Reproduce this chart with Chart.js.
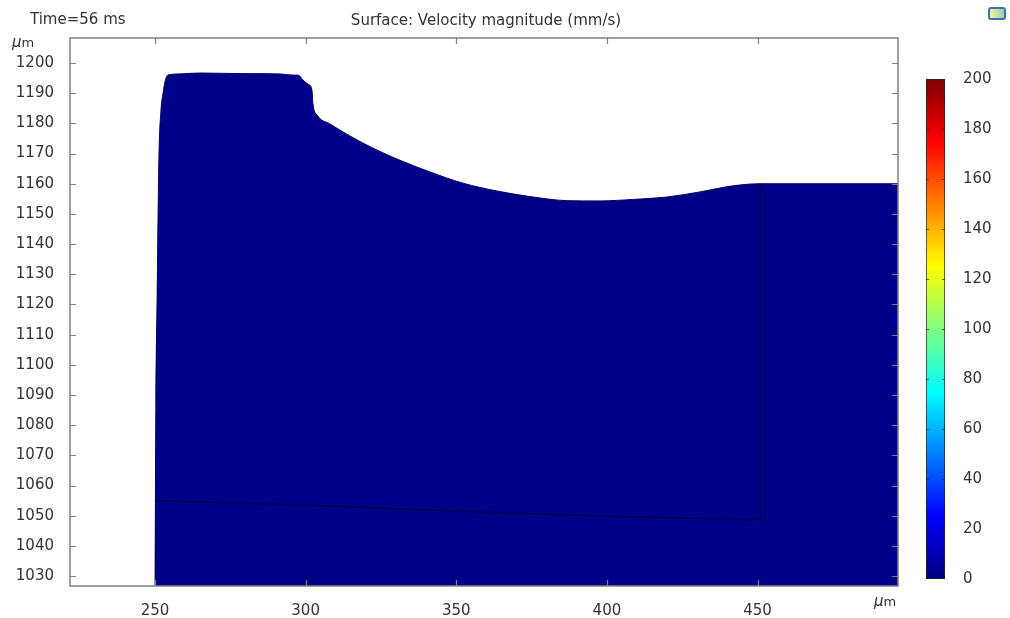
<!DOCTYPE html>
<html>
<head>
<meta charset="utf-8">
<script src="https://cdn.jsdelivr.net/npm/chart.js@4"></script>
<style>
    html, body { margin: 0; padding: 0; background: #fff; }
    #wrap { position: relative; width: 1010px; height: 618px; }
    #main { position: absolute; left: 0; top: 0; }
    #cbar { position: absolute; left: 900px; top: 0; }
    #icon {
        position: absolute; left: 988px; top: 7px; width: 14px; height: 9px;
        border: 2px solid #3d6fb4; border-radius: 3px;
        background: linear-gradient(to right, #f4f0a0, #9fd0a8);
    }
</style>
</head>
<body>
<div id="wrap">
    <canvas id="main" width="1010" height="618"></canvas>
    <canvas id="cbar" width="110" height="618"></canvas>
    <div id="icon"></div>
</div>
<script>
// axis ranges / ticks (um)
const xMin = 221.8, xMax = 496.6;
const yMin = 1026.7, yMax = 1208.3;
const xTicks = [250, 300, 350, 400, 450];
const yTicks = [1030, 1040, 1050, 1060, 1070, 1080, 1090, 1100, 1110, 1120, 1130, 1140, 1150, 1160, 1170, 1180, 1190, 1200];
const cbTicks = [0, 20, 40, 60, 80, 100, 120, 140, 160, 180, 200];

// free surface of the melt (top outline, left to right)
const shapeX = [250.0, 250.3, 250.7, 251.3, 252.0, 252.7, 253.3, 254.3, 258.3, 264.9, 278.2, 291.5, 295.8, 297.5, 299.1, 300.8, 302.1, 302.4, 303.8, 308.1, 319.0, 330.3, 341.3, 352.2, 363.5, 375.5, 386.7, 397.7, 408.6, 419.9, 430.9, 441.8, 450.8, 500.0];
const shapeY = [1020.0, 1088.3, 1121.4, 1167.9, 1184.4, 1190.1, 1193.7, 1196.0, 1196.4, 1196.7, 1196.5, 1196.4, 1196.0, 1196.0, 1194.4, 1193.0, 1191.1, 1186.7, 1182.8, 1179.8, 1173.5, 1168.2, 1163.9, 1160.2, 1157.6, 1155.6, 1154.4, 1154.3, 1154.8, 1155.6, 1157.3, 1159.3, 1160.0, 1160.0];

// inner domain boundary
const innerX = [250.3, 300.0, 350.0, 400.0, 451.0, 451.0];
const innerY = [1055.0, 1053.5, 1051.5, 1049.8, 1048.6, 1160.0];

const txtColor = '#333';
const axisColor = '#808080';
const font15 = { family: 'DejaVu Sans', size: 15 };
const plain = v => String(v);

const framePlugin = {
    id: 'frame',
    afterDatasetsDraw(chart) {
        const { ctx, chartArea: a, scales } = chart;
        ctx.save();
        ctx.strokeStyle = axisColor;
        ctx.lineWidth = 1.5;
        ctx.strokeRect(a.left, a.top, a.right - a.left, a.bottom - a.top);
        ctx.lineWidth = 1.2;
        ctx.beginPath();
        xTicks.forEach(v => {
            const px = Math.round(scales.x.getPixelForValue(v)) + 0.5;
            ctx.moveTo(px, a.top); ctx.lineTo(px, a.top + 6);
            ctx.moveTo(px, a.bottom); ctx.lineTo(px, a.bottom - 6);
        });
        yTicks.forEach(v => {
            const py = Math.round(scales.y.getPixelForValue(v)) + 0.5;
            ctx.moveTo(a.left, py); ctx.lineTo(a.left + 6, py);
            ctx.moveTo(a.right, py); ctx.lineTo(a.right - 6, py);
        });
        ctx.stroke();

        ctx.fillStyle = txtColor;
        ctx.font = '15px "DejaVu Sans"';
        ctx.textBaseline = 'alphabetic';
        ctx.textAlign = 'left';
        ctx.fillText('Time=56 ms', 30, 24);
        ctx.textAlign = 'center';
        ctx.fillText('Surface: Velocity magnitude (mm/s)', (a.left + a.right) / 2 + 2, 25);

        const unit = (x, y) => {
            ctx.textAlign = 'left';
            ctx.font = 'italic 15px "DejaVu Sans"';
            ctx.fillText('\u00b5', x, y);
            const w = ctx.measureText('\u00b5').width;
            ctx.font = '13px "DejaVu Sans"';
            ctx.fillText('m', x + w, y);
        };
        unit(12, 47);
        unit(874, 606);
        ctx.restore();
    }
};

new Chart(document.getElementById('main'), {
    type: 'scatter',
    data: {
        datasets: [
            {
                data: shapeX.map((x, i) => ({ x, y: shapeY[i] })),
                showLine: true, fill: 'start', order: 2,
                backgroundColor: '#000088', borderColor: '#000060', borderWidth: 1,
                pointRadius: 0, cubicInterpolationMode: 'monotone'
            },
            {
                data: innerX.map((x, i) => ({ x, y: innerY[i] })),
                showLine: true, fill: false, order: 1,
                borderColor: '#000050', borderWidth: 1.6,
                pointRadius: 0, tension: 0
            }
        ]
    },
    options: {
        responsive: false,
        animation: false,
        layout: { padding: { left: 10, top: 38, right: 112, bottom: 0 } },
        plugins: { legend: { display: false }, tooltip: { enabled: false } },
        scales: {
            x: {
                type: 'linear', min: xMin, max: xMax,
                afterBuildTicks: s => { s.ticks = xTicks.map(v => ({ value: v })); },
                afterFit: s => { s.height = 32; },
                grid: { display: false }, border: { display: false },
                ticks: { padding: 8, color: txtColor, font: font15, maxRotation: 0, callback: plain }
            },
            y: {
                type: 'linear', min: yMin, max: yMax,
                afterBuildTicks: s => { s.ticks = yTicks.map(v => ({ value: v })); },
                afterFit: s => { s.width = 60; },
                grid: { display: false }, border: { display: false },
                ticks: { padding: 8, color: txtColor, font: font15, callback: plain }
            }
        }
    },
    plugins: [framePlugin]
});

// colour legend
function jet(chart) {
    const a = chart.chartArea;
    if (!a) return '#00007f';
    const g = chart.ctx.createLinearGradient(0, a.bottom, 0, a.top);
    g.addColorStop(0, '#00007f');
    g.addColorStop(0.125, '#0000ff');
    g.addColorStop(0.375, '#00ffff');
    g.addColorStop(0.625, '#ffff00');
    g.addColorStop(0.875, '#ff0000');
    g.addColorStop(1, '#7f0000');
    return g;
}

const cbTickPlugin = {
    id: 'cbTicks',
    afterDatasetsDraw(chart) {
        const { ctx, chartArea: a, scales } = chart;
        ctx.save();
        ctx.strokeStyle = 'rgba(40,40,40,0.7)';
        ctx.lineWidth = 1;
        ctx.beginPath();
        cbTicks.slice(1, -1).forEach(v => {
            const py = Math.round(scales.y.getPixelForValue(v)) + 0.5;
            ctx.moveTo(a.left, py); ctx.lineTo(a.left + 3, py);
            ctx.moveTo(a.right, py); ctx.lineTo(a.right - 3, py);
        });
        ctx.stroke();
        ctx.restore();
    }
};

new Chart(document.getElementById('cbar'), {
    type: 'bar',
    data: {
        labels: [''],
        datasets: [{
            data: [[cbTicks[0], cbTicks[cbTicks.length - 1]]],
            backgroundColor: ctx => jet(ctx.chart),
            borderColor: '#222', borderWidth: 1, borderSkipped: false,
            barPercentage: 1, categoryPercentage: 1
        }]
    },
    options: {
        responsive: false,
        animation: false,
        layout: { padding: { left: 26, top: 79, right: 0, bottom: 39 } },
        plugins: { legend: { display: false }, tooltip: { enabled: false } },
        scales: {
            x: { display: false },
            y: {
                position: 'right', min: 0, max: 200,
                afterBuildTicks: s => { s.ticks = cbTicks.map(v => ({ value: v })); },
                afterFit: s => { s.width = 65; },
                grid: { display: false }, border: { display: false },
                ticks: { padding: 10, color: txtColor, font: font15, callback: plain }
            }
        }
    },
    plugins: [cbTickPlugin]
});
</script>
</body>
</html>
